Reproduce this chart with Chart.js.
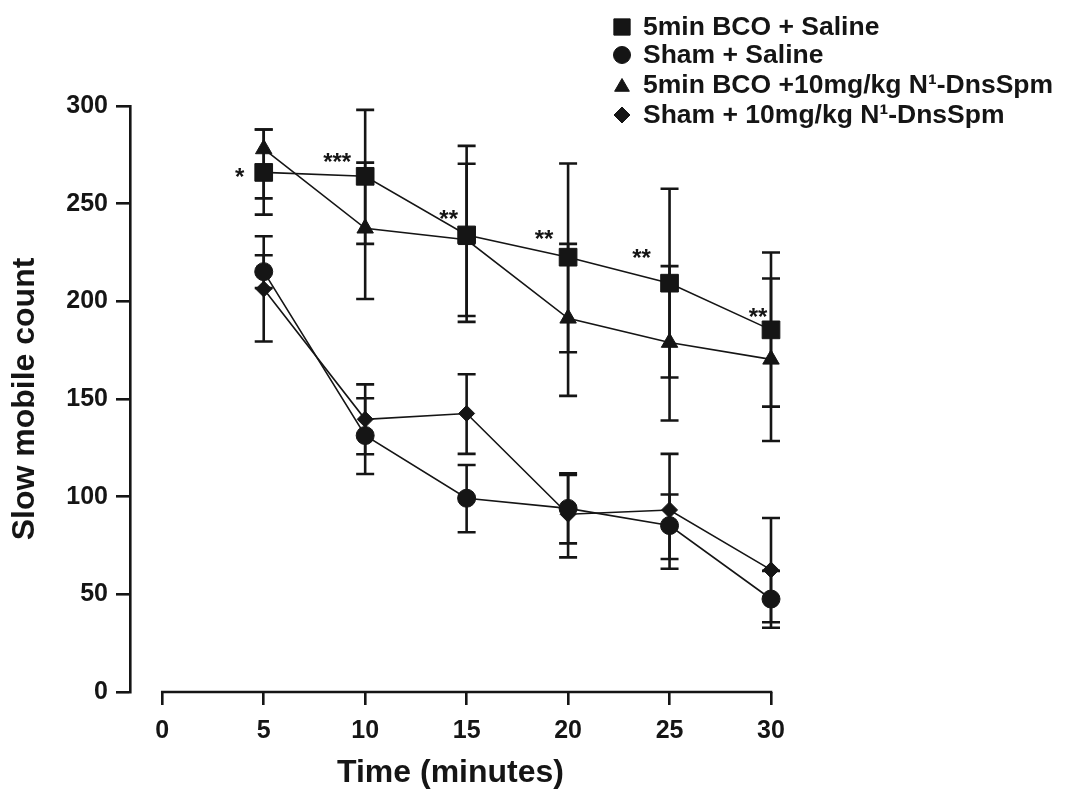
<!DOCTYPE html>
<html><head><meta charset="utf-8">
<script src="https://cdn.jsdelivr.net/npm/chart.js@4/dist/chart.umd.min.js"></script>
<style>html,body{margin:0;padding:0;background:#fff}#wrap{width:1067px;height:794px;position:relative}</style>
</head><body><div id="wrap"><canvas id="c"></canvas></div>
<script>
// ---- data ----
const timePoints = [5, 10, 15, 20, 25, 30];
const xTickValues = [0, 5, 10, 15, 20, 25, 30];
const seriesNames = ['5min BCO + Saline', 'Sham + Saline', '5min BCO +10mg/kg N\u00B9-DnsSpm', 'Sham + 10mg/kg N\u00B9-DnsSpm'];

const bcoSaline   = [266, 264, 234, 222.6, 209.3, 185.4];
const bcoSalineHi = [288, 298, 279.6, 270.6, 257.6, 225];
const bcoSalineLo = [244.4, 229.4, 189.5, 173.9, 161, 146.1];

const shamSaline   = [215.2, 131.3, 99.2, 94, 85.2, 47.6];
const shamSalineHi = [223.6, 150.4, 116.2, 111.1, 101.1, 62];
const shamSalineLo = [206.8, 111.6, 81.8, 76.1, 68.1, 32.9];

const bcoDns   = [278, 237.4, 231.5, 191.3, 178.9, 170.3];
const bcoDnsHi = [288, 271, 270.4, 229.4, 218, 211.7];
const bcoDnsLo = [252.7, 201.2, 192.5, 151.6, 139, 128.5];

const shamDns   = [206.3, 139.6, 142.6, 91, 93.2, 62.5];
const shamDnsHi = [233.3, 157.5, 162.7, 112, 121.9, 89.1];
const shamDnsLo = [179.4, 121.7, 121.9, 68.9, 63.1, 35.7];

const significance = ['*', '***', '**', '**', '**', '**'];

// ---- styling ----
const INK = '#151515';
const FONT = '"Liberation Sans", Arial, Helvetica, sans-serif';

function toPoints(vals) { return timePoints.map((t, i) => ({ x: t, y: vals[i] })); }

function ds(label, vals, hi, lo, style, radius) {
  return {
    label, data: toPoints(vals), errHi: hi, errLo: lo,
    borderColor: INK, backgroundColor: INK, borderWidth: 1.6,
    pointStyle: style, pointRadius: radius, pointHoverRadius: radius,
    pointBackgroundColor: INK, pointBorderColor: INK, pointBorderWidth: 1,
    clip: false, tension: 0, fill: false
  };
}

const errorBars = {
  id: 'errorBars',
  beforeDatasetsDraw(chart) {
    const ctx = chart.ctx, y = chart.scales.y;
    ctx.save();
    ctx.strokeStyle = INK; ctx.lineWidth = 2.6; ctx.lineCap = 'butt';
    chart.data.datasets.forEach((d, di) => {
      const meta = chart.getDatasetMeta(di);
      meta.data.forEach((pt, i) => {
        const yh = y.getPixelForValue(d.errHi[i]);
        const yl = y.getPixelForValue(d.errLo[i]);
        const x = pt.x, w = 9;
        ctx.beginPath();
        ctx.moveTo(x, yh); ctx.lineTo(x, yl);
        ctx.moveTo(x - w, yh); ctx.lineTo(x + w, yh);
        ctx.moveTo(x - w, yl); ctx.lineTo(x + w, yl);
        ctx.stroke();
      });
    });
    ctx.restore();
  }
};

const xAxisLine = {
  id: 'xAxisLine',
  afterDraw(chart) {
    const ctx = chart.ctx, xs = chart.scales.x, a = chart.chartArea;
    ctx.save();
    ctx.strokeStyle = INK; ctx.lineWidth = 2.6;
    ctx.beginPath();
    ctx.moveTo(xs.getPixelForValue(xTickValues[0]) - 1.3, a.bottom);
    ctx.lineTo(xs.getPixelForValue(xTickValues[xTickValues.length - 1]) + 1.3, a.bottom);
    ctx.stroke();
    ctx.restore();
  }
};

const sigMarks = {
  id: 'sigMarks',
  afterDatasetsDraw(chart) {
    const ctx = chart.ctx, meta = chart.getDatasetMeta(0);
    const offs = [[-24, 0], [-28, -19], [-18, -21], [-24, -23], [-28, -30], [-13, -18]];
    ctx.save();
    ctx.fillStyle = INK;
    ctx.font = 'bold 24px ' + FONT;
    ctx.textAlign = 'center';
    ctx.textBaseline = 'alphabetic';
    meta.data.forEach((pt, i) => {
      ctx.fillText(significance[i], pt.x + offs[i][0], pt.y + offs[i][1] + 13);
    });
    ctx.restore();
  }
};

const customLegend = {
  id: 'customLegend',
  afterDraw(chart) {
    const ctx = chart.ctx;
    const rows = [27, 55, 85, 115];
    const mx = 622, tx = 643;
    ctx.save();
    chart.data.datasets.forEach((d, i) => {
      ctx.fillStyle = INK; ctx.strokeStyle = INK; ctx.lineWidth = 1;
      const r = d.pointStyle === 'rect' ? 11.5 : (d.pointStyle === 'rectRot' ? 8 : 8.5);
      Chart.helpers.drawPoint(ctx, { pointStyle: d.pointStyle, radius: r, rotation: 0, borderWidth: 1 }, mx, rows[i] + (d.pointStyle === 'triangle' ? 2 : 0));
      ctx.fillStyle = INK;
      ctx.font = 'bold 26.5px ' + FONT;
      ctx.textBaseline = 'middle';
      ctx.textAlign = 'left';
      ctx.fillText(d.label, tx, rows[i] + 1);
    });
    ctx.restore();
  }
};

new Chart(document.getElementById('c'), {
  type: 'line',
  data: {
    datasets: [
      ds(seriesNames[0], bcoSaline, bcoSalineHi, bcoSalineLo, 'rect', 12.5),
      ds(seriesNames[1], shamSaline, shamSalineHi, shamSalineLo, 'circle', 9),
      ds(seriesNames[2], bcoDns, bcoDnsHi, bcoDnsLo, 'triangle', 9.5),
      ds(seriesNames[3], shamDns, shamDnsHi, shamDnsLo, 'rectRot', 8)
    ]
  },
  options: {
    responsive: true, maintainAspectRatio: false, animation: false,
    layout: { padding: { top: 106, right: 296, bottom: 0, left: 0 } },
    plugins: { legend: { display: false }, tooltip: { enabled: false } },
    scales: {
      x: {
        type: 'linear', min: -1.59, max: 30,
        afterBuildTicks(s) { s.ticks = xTickValues.map(v => ({ value: v })); },
        afterFit(s) { s.height = 102; },
        grid: { display: true, drawOnChartArea: false, drawTicks: true, tickLength: 13, color: INK, lineWidth: 2.6 },
        border: { display: false },
        ticks: { color: INK, font: { family: FONT, size: 25, weight: 'bold' }, padding: 11, autoSkip: false, maxRotation: 0 },
        title: { display: true, text: 'Time (minutes)', color: INK, font: { family: FONT, size: 32, weight: 'bold' }, padding: { top: 4, bottom: 2 } }
      },
      y: {
        min: 0, max: 300,
        afterFit(s) { s.width = 130; },
        grid: { display: true, drawOnChartArea: false, drawTicks: true, tickLength: 14, color: INK, lineWidth: 2.6 },
        border: { display: true, color: INK, width: 2.6 },
        ticks: { stepSize: 50, color: INK, font: { family: FONT, size: 25, weight: 'bold' }, padding: 8 },
        title: { display: true, text: 'Slow mobile count', color: INK, font: { family: FONT, size: 32, weight: 'bold' }, padding: { top: 6, bottom: 4 } }
      }
    }
  },
  plugins: [errorBars, xAxisLine, sigMarks, customLegend]
});
</script>
</body></html>
